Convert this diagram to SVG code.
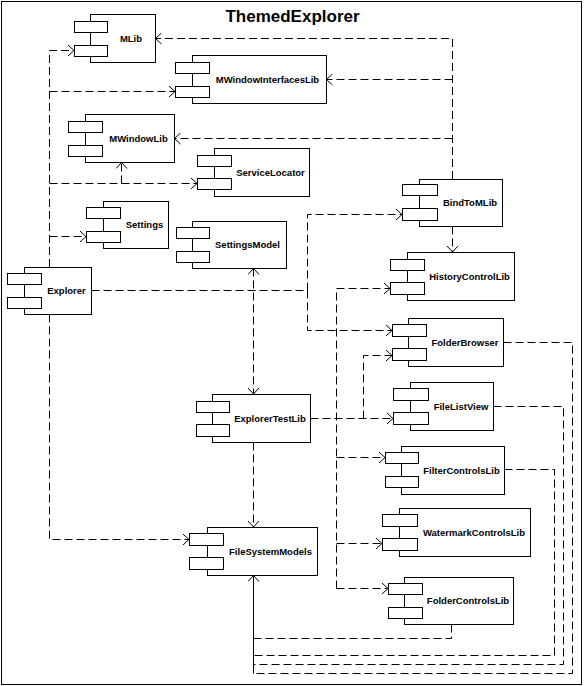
<svg xmlns="http://www.w3.org/2000/svg" width="584" height="686" viewBox="0 0 584 686">
<style>
.frame{fill:#fff;stroke:#000;stroke-width:1}
.main{fill:#fff;stroke:#000;stroke-width:1}
.port{fill:#fff;stroke:#000;stroke-width:1}
.lbl{font-family:"Liberation Sans",Arial,sans-serif;font-weight:bold;font-size:9.5px;fill:#000;text-anchor:middle}
.title{font-family:"Liberation Sans",Arial,sans-serif;font-weight:bold;font-size:17px;fill:#000;text-anchor:middle}
.dep{fill:none;stroke:#000;stroke-width:1;stroke-dasharray:8 4}
.solid{fill:none;stroke:#000;stroke-width:1}
</style>
<defs>
<marker id="arr" viewBox="0 0 7 12" refX="6.5" refY="6" markerWidth="7" markerHeight="12" markerUnits="userSpaceOnUse" orient="auto-start-reverse">
<path d="M0.5,0.5 L6.5,6 L0.5,11.5" fill="none" stroke="#000" stroke-width="1" stroke-dasharray="none"/>
</marker>
</defs>
<rect class="frame" x="1.5" y="1.5" width="580" height="683"/>
<text class="title" x="292.5" y="22">ThemedExplorer</text>

<g id="connectors">
<path class="dep" d="M452.5,179 V38.5 H155.5" marker-end="url(#arr)"/>
<path class="dep" d="M452.5,79.5 H326.5" marker-end="url(#arr)"/>
<path class="dep" d="M452.5,138.5 H174.5" marker-end="url(#arr)"/>
<path class="dep" d="M452.5,226.5 V252" marker-end="url(#arr)"/>
<path class="dep" d="M49.5,267 V50.5 H74" marker-end="url(#arr)"/>
<path class="dep" d="M49.5,91.5 H175" marker-end="url(#arr)"/>
<path class="dep" d="M49.5,183.5 H197" marker-end="url(#arr)"/>
<path class="dep" d="M121.5,183.5 V162.5" marker-end="url(#arr)"/>
<path class="dep" d="M49.5,236.5 H86" marker-end="url(#arr)"/>
<path class="dep" d="M49.5,314.5 V539.5 H189" marker-end="url(#arr)"/>
<path class="dep" d="M91.5,290.5 H307.5 V214.5 H402" marker-end="url(#arr)"/>
<path class="dep" d="M307.5,290.5 V330.5 H392" marker-end="url(#arr)"/>
<path class="dep" d="M253.5,268.5 V394" marker-start="url(#arr)" marker-end="url(#arr)"/>
<path class="dep" d="M253.5,442.5 V527" marker-end="url(#arr)"/>
<path class="dep" d="M310.5,418.5 H393" marker-end="url(#arr)"/>
<path class="dep" d="M363.5,418.5 V355.5 H392" marker-end="url(#arr)"/>
<path class="dep" d="M336.5,588.5 V288.5 H390" marker-end="url(#arr)"/>
<path class="dep" d="M336.5,457.5 H385" marker-end="url(#arr)"/>
<path class="dep" d="M336.5,543.5 H382" marker-end="url(#arr)"/>
<path class="dep" d="M336.5,588.5 H388" marker-end="url(#arr)"/>
<path class="dep" d="M451.5,624.5 V638.5 H253.5"/>
<path class="dep" d="M504.5,469.5 H554.5 V655.5 H253.5"/>
<path class="dep" d="M493.5,406.5 H563.5 V664.5 H253.5"/>
<path class="dep" d="M503.5,342.5 H572.5 V673.5 H253.5"/>
<path class="solid" d="M253.5,673.5 V575.5" marker-end="url(#arr)"/>
</g>

<g id="MLib">
<rect class="main" x="90.5" y="14.5" width="65" height="48"/>
<rect class="port" x="74.5" y="21.5" width="33" height="11"/>
<rect class="port" x="74.5" y="45.5" width="33" height="11"/>
<text class="lbl" x="131" y="42">MLib</text>
</g>
<g id="MWindowInterfacesLib">
<rect class="main" x="192.5" y="55.5" width="134" height="48"/>
<rect class="port" x="175.5" y="62.5" width="34" height="11"/>
<rect class="port" x="175.5" y="86.5" width="34" height="11"/>
<text class="lbl" x="267.5" y="83">MWindowInterfacesLib</text>
</g>
<g id="MWindowLib">
<rect class="main" x="85.5" y="114.5" width="89" height="48"/>
<rect class="port" x="68.5" y="121.5" width="34" height="11"/>
<rect class="port" x="68.5" y="145.5" width="34" height="11"/>
<text class="lbl" x="138.5" y="142">MWindowLib</text>
</g>
<g id="ServiceLocator">
<rect class="main" x="214.5" y="148.5" width="95" height="48"/>
<rect class="port" x="197.5" y="155.5" width="34" height="11"/>
<rect class="port" x="197.5" y="178.5" width="34" height="11"/>
<text class="lbl" x="270.5" y="176">ServiceLocator</text>
</g>
<g id="Settings">
<rect class="main" x="103.5" y="201.5" width="65" height="47"/>
<rect class="port" x="86.5" y="207.5" width="34" height="11"/>
<rect class="port" x="86.5" y="231.5" width="34" height="11"/>
<text class="lbl" x="144.5" y="228">Settings</text>
</g>
<g id="SettingsModel">
<rect class="main" x="192.5" y="221.5" width="94" height="47"/>
<rect class="port" x="176.5" y="227.5" width="33" height="11"/>
<rect class="port" x="176.5" y="251.5" width="33" height="11"/>
<text class="lbl" x="247.5" y="248">SettingsModel</text>
</g>
<g id="Explorer">
<rect class="main" x="24.5" y="267.5" width="67" height="47"/>
<rect class="port" x="7.5" y="273.5" width="34" height="11"/>
<rect class="port" x="7.5" y="297.5" width="34" height="11"/>
<text class="lbl" x="66.5" y="294">Explorer</text>
</g>
<g id="BindToMLib">
<rect class="main" x="419.5" y="179.5" width="83" height="47"/>
<rect class="port" x="402.5" y="184.5" width="35" height="11"/>
<rect class="port" x="402.5" y="208.5" width="35" height="12"/>
<text class="lbl" x="470" y="206">BindToMLib</text>
</g>
<g id="HistoryControlLib">
<rect class="main" x="407.5" y="252.5" width="107" height="48"/>
<rect class="port" x="390.5" y="259.5" width="34" height="11"/>
<rect class="port" x="390.5" y="282.5" width="34" height="12"/>
<text class="lbl" x="469.5" y="280">HistoryControlLib</text>
</g>
<g id="FolderBrowser">
<rect class="main" x="408.5" y="318.5" width="95" height="48"/>
<rect class="port" x="392.5" y="324.5" width="34" height="12"/>
<rect class="port" x="392.5" y="348.5" width="34" height="12"/>
<text class="lbl" x="465" y="346">FolderBrowser</text>
</g>
<g id="FileListView">
<rect class="main" x="410.5" y="382.5" width="83" height="48"/>
<rect class="port" x="393.5" y="388.5" width="35" height="12"/>
<rect class="port" x="393.5" y="412.5" width="35" height="12"/>
<text class="lbl" x="461" y="410">FileListView</text>
</g>
<g id="FilterControlsLib">
<rect class="main" x="401.5" y="446.5" width="103" height="48"/>
<rect class="port" x="385.5" y="452.5" width="33" height="11"/>
<rect class="port" x="385.5" y="476.5" width="33" height="11"/>
<text class="lbl" x="461.5" y="474">FilterControlsLib</text>
</g>
<g id="WatermarkControlsLib">
<rect class="main" x="399.5" y="508.5" width="131" height="48"/>
<rect class="port" x="382.5" y="514.5" width="35" height="12"/>
<rect class="port" x="382.5" y="538.5" width="35" height="12"/>
<text class="lbl" x="474" y="536">WatermarkControlsLib</text>
</g>
<g id="FolderControlsLib">
<rect class="main" x="404.5" y="577.5" width="109" height="47"/>
<rect class="port" x="388.5" y="583.5" width="34" height="11"/>
<rect class="port" x="388.5" y="607.5" width="34" height="11"/>
<text class="lbl" x="468" y="604">FolderControlsLib</text>
</g>
<g id="ExplorerTestLib">
<rect class="main" x="212.5" y="394.5" width="98" height="48"/>
<rect class="port" x="196.5" y="401.5" width="33" height="11"/>
<rect class="port" x="196.5" y="424.5" width="33" height="12"/>
<text class="lbl" x="270" y="422">ExplorerTestLib</text>
</g>
<g id="FileSystemModels">
<rect class="main" x="207.5" y="527.5" width="110" height="48"/>
<rect class="port" x="189.5" y="533.5" width="34" height="12"/>
<rect class="port" x="189.5" y="557.5" width="34" height="12"/>
<text class="lbl" x="270.5" y="555">FileSystemModels</text>
</g>
</svg>
